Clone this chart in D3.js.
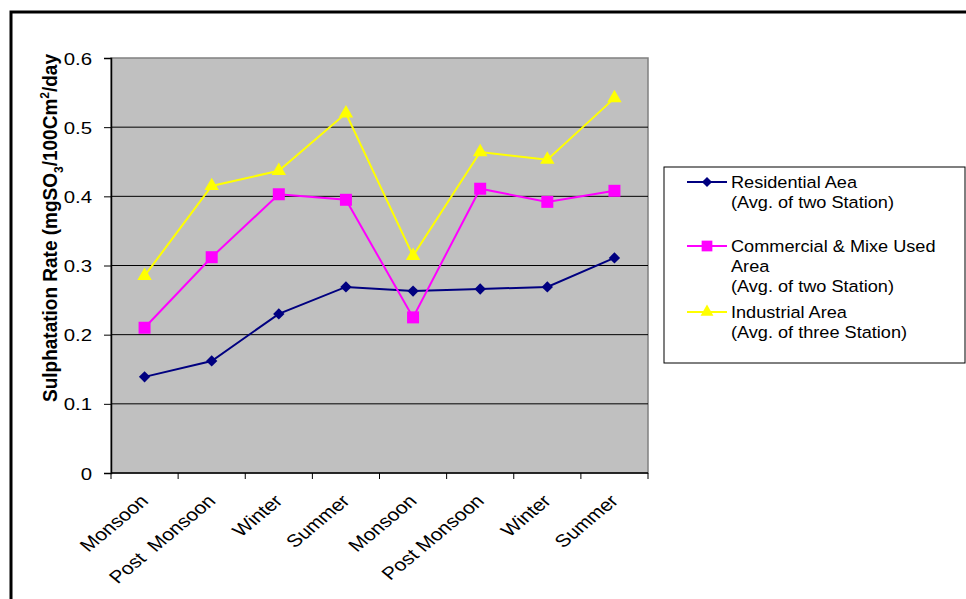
<!DOCTYPE html>
<html>
  <head>
    <style>
      body { margin: 0; background: #fff; }
      svg { display: block; font-family: "Liberation Sans", Arial, sans-serif; }
    </style>
  </head>
  <body>
    <script src="https://d3js.org/d3.v7.min.js"></script>
    <script>
      // data
      const seasons = ["Monsoon", "Post  Monsoon", "Winter", "Summer", "Monsoon", "Post Monsoon", "Winter", "Summer"];
      const residential = [0.139, 0.162, 0.230, 0.269, 0.263, 0.266, 0.269, 0.311];
      const commercial = [0.210, 0.312, 0.403, 0.395, 0.225, 0.411, 0.392, 0.408];
      const industrial = [0.285, 0.415, 0.437, 0.520, 0.314, 0.464, 0.453, 0.542];
      const yTicks = [0, 0.1, 0.2, 0.3, 0.4, 0.5, 0.6];

      const series = [
        { name: ["Residential Aea", "(Avg. of two Station)"], values: residential, color: "#000080", shape: d3.symbolSquare, size: 64, rot: 45 },
        { name: ["Commercial & Mixe Used", "Area", "(Avg. of two Station)"], values: commercial, color: "#FF00FF", shape: d3.symbolSquare, size: 144, rot: 0 },
        { name: ["Industrial Area", "(Avg. of three Station)"], values: industrial, color: "#FFFF00", shape: d3.symbolTriangle, size: 90, rot: 0 }
      ];

      const W = 966, H = 599;
      const plot = { left: 111, top: 58, right: 648, bottom: 473 };
      // the picture is a little wider than tall, so text is stretched sideways
      const stretch = 1.2;

      const svg = d3.select("body").append("svg")
        .attr("width", W)
        .attr("height", H);

      // outer frame
      svg.append("rect")
        .attr("x", 11).attr("y", 12)
        .attr("width", W + 20).attr("height", H + 20)
        .attr("fill", "#fff")
        .attr("stroke", "#000")
        .attr("stroke-width", 3);

      const x = d3.scaleBand().domain(d3.range(seasons.length)).range([plot.left, plot.right]);
      const y = d3.scaleLinear().domain([0, 0.6]).range([plot.bottom, plot.top]);
      const cx = i => x(i) + x.bandwidth() / 2;

      // plot background
      svg.append("rect")
        .attr("x", plot.left).attr("y", plot.top)
        .attr("width", plot.right - plot.left).attr("height", plot.bottom - plot.top)
        .attr("fill", "#C0C0C0")
        .attr("stroke", "#808080")
        .attr("stroke-width", 1.5);

      // gridlines
      svg.append("g").selectAll("line")
        .data(yTicks.filter(d => d > 0 && d < 0.6))
        .join("line")
        .attr("x1", plot.left).attr("x2", plot.right)
        .attr("y1", d => y(d)).attr("y2", d => y(d))
        .attr("stroke", "#000")
        .attr("stroke-width", 1);

      // y axis
      const yAxis = svg.append("g")
        .attr("transform", `translate(${plot.left},0)`)
        .call(d3.axisLeft(y).tickValues(yTicks).tickFormat(d3.format("")).tickSize(7));
      yAxis.select(".domain").attr("stroke", "#000").attr("stroke-width", 1.5);
      yAxis.selectAll("text")
        .attr("x", null).attr("dy", null)
        .attr("transform", `translate(-19,6) scale(${stretch},1)`)
        .attr("font-size", 17).attr("fill", "#000")
        .attr("font-family", "Liberation Sans, Arial, sans-serif");

      // x axis: ticks at band edges
      const xAxis = svg.append("g");
      xAxis.append("line")
        .attr("x1", plot.left).attr("x2", plot.right)
        .attr("y1", plot.bottom).attr("y2", plot.bottom)
        .attr("stroke", "#000").attr("stroke-width", 1.5);
      xAxis.selectAll(".tk")
        .data(d3.range(seasons.length + 1))
        .join("line")
        .attr("x1", i => plot.left + i * x.step()).attr("x2", i => plot.left + i * x.step())
        .attr("y1", plot.bottom).attr("y2", plot.bottom + 6)
        .attr("stroke", "#000");
      xAxis.selectAll("text")
        .data(seasons)
        .join("text")
        .attr("transform", (d, i) => `translate(${cx(i) + 5},${plot.bottom + 29}) scale(${stretch},1) rotate(-45)`)
        .attr("text-anchor", "end")
        .attr("font-size", 17.5)
        .style("white-space", "pre")
        .text(d => d);

      // y axis title
      const yt = svg.append("text")
        .attr("transform", "translate(57,228) scale(1.1,1) rotate(-90)")
        .attr("text-anchor", "middle")
        .attr("font-size", 19)
        .attr("font-weight", "bold");
      yt.append("tspan").text("Sulphatation Rate (mgSO");
      yt.append("tspan").attr("font-size", 12).attr("dy", 5).text("3");
      yt.append("tspan").attr("dy", -5).text("/100Cm");
      yt.append("tspan").attr("font-size", 12).attr("dy", -7).text("2");
      yt.append("tspan").attr("dy", 7).text("/day");

      // lines and markers
      const line = d3.line()
        .x((d, i) => cx(i))
        .y(d => y(d));

      series.forEach(s => {
        svg.append("path")
          .datum(s.values)
          .attr("d", line)
          .attr("fill", "none")
          .attr("stroke", s.color)
          .attr("stroke-width", 2);
        svg.append("g").selectAll("path")
          .data(s.values)
          .join("path")
          .attr("transform", (d, i) => `translate(${cx(i)},${y(d)}) rotate(${s.rot})`)
          .attr("d", d3.symbol().type(s.shape).size(s.size))
          .attr("fill", s.color);
      });

      // legend
      svg.append("rect")
        .attr("x", 664).attr("y", 167)
        .attr("width", 301).attr("height", 196)
        .attr("fill", "#fff")
        .attr("stroke", "#000")
        .attr("stroke-width", 1);

      const legendY = [182, 246, 312];
      series.forEach((s, k) => {
        const g = svg.append("g").attr("transform", `translate(0,${legendY[k]})`);
        g.append("line")
          .attr("x1", 687).attr("x2", 727)
          .attr("y1", 0).attr("y2", 0)
          .attr("stroke", s.color).attr("stroke-width", 2);
        g.append("path")
          .attr("transform", `translate(707,0) rotate(${s.rot})`)
          .attr("d", d3.symbol().type(s.shape).size(s.size * 0.8))
          .attr("fill", s.color);
        g.selectAll("text")
          .data(s.name)
          .join("text")
          .attr("transform", (d, i) => `translate(731,${i * 20 + 6}) scale(1.1,1)`)
          .attr("font-size", 16.5)
          .text(d => d);
      });
    </script>
  </body>
</html>
